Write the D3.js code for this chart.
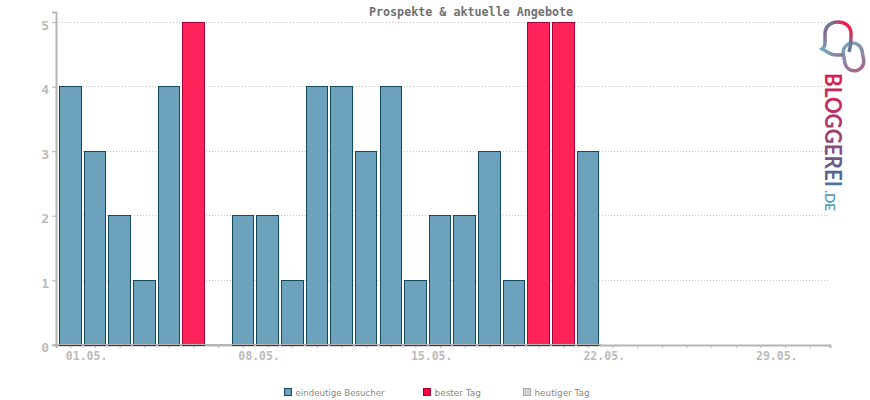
<!DOCTYPE html>
<html>
<head>
<meta charset="utf-8">
<script src="https://d3js.org/d3.v7.min.js"></script>
<style>
  html, body { margin: 0; padding: 0; background: #fff; }
  svg { display: block; }
  .mono { font-family: "DejaVu Sans Mono", monospace; }
</style>
</head>
<body>
<div id="chart"></div>
<script>
// chart data
var days = d3.range(1, 23);
var visitors = [4, 3, 2, 1, 4, 5, 0, 2, 2, 1, 4, 4, 3, 4, 1, 2, 2, 3, 1, 5, 5, 3];
var bestValue = 5;
var allDays = d3.range(1, 32);
var labelledDays = { 1: "01.05.", 8: "08.05.", 15: "15.05.", 22: "22.05.", 29: "29.05." };
var yTicks = [0, 1, 2, 3, 4, 5];
var legendNames = ["eindeutige Besucher", "bester Tag", "heutiger Tag"];
var legendFill = ["#6ca2bb", "#ff0040", "#d3d3d3"];
var legendStroke = ["#134a5c", "#a80030", "#aaaaaa"];
var legendX = [284, 423, 523];
var legendWidth = [89, 46.5, 55];

var svg = d3.select("#chart").append("svg").attr("width", 870).attr("height", 400);

var x = d3.scaleLinear().domain([0.42, 31.82]).range([56, 830]);
var y = d3.scaleLinear().domain([0, 5.16]).range([344.7, 11.9]);

// title
svg.append("text")
  .attr("class", "mono")
  .attr("x", 471).attr("y", 16)
  .attr("text-anchor", "middle")
  .attr("font-size", 11.7).attr("font-weight", "bold")
  .attr("fill", "#707070")
  .text("Prospekte & aktuelle Angebote");

// grid
svg.append("g").selectAll("line").data(yTicks.slice(1)).join("line")
  .attr("x1", 56).attr("x2", 830)
  .attr("y1", d => Math.floor(y(d)) + 0.5).attr("y2", d => Math.floor(y(d)) + 0.5)
  .attr("stroke", "#c8c8c8").attr("stroke-dasharray", "1,2");

// x axis
var xAxis = svg.append("g")
  .attr("transform", "translate(0,345)")
  .call(d3.axisBottom(x).tickValues(allDays).tickSize(3).tickPadding(5)
    .tickFormat(d => labelledDays[d] || ""));
xAxis.select(".domain").attr("stroke", "#b5b5b5").attr("stroke-width", 2);
xAxis.selectAll(".tick line").attr("stroke", "#b5b5b5");
xAxis.selectAll("text")
  .attr("class", "mono")
  .attr("text-anchor", "start").attr("dx", -5).attr("dy", 12)
  .attr("y", 3)
  .attr("font-size", 11.5).attr("font-weight", "bold")
  .attr("fill", "#bbb");

// y axis
var yAxis = svg.append("g")
  .attr("transform", "translate(56,0)")
  .call(d3.axisLeft(y).tickValues(yTicks).tickSize(4).tickPadding(3).tickFormat(d3.format("d")));
yAxis.select(".domain").attr("stroke", "#b5b5b5").attr("stroke-width", 2);
yAxis.selectAll(".tick line").attr("stroke", "#b5b5b5");
yAxis.selectAll("text")
  .attr("class", "mono")
  .attr("dy", "0.55em")
  .attr("font-size", 13).attr("font-weight", "bold")
  .attr("fill", "#bbb");

// bars
svg.append("g").selectAll("rect").data(days.filter((d, i) => visitors[i] > 0)).join("rect")
  .attr("x", d => Math.round(x(d) - 11.2) + 0.5)
  .attr("width", d => Math.round(x(d) + 10.4) - Math.round(x(d) - 11.2))
  .attr("y", d => Math.floor(y(visitors[d - 1])) + 0.5)
  .attr("height", d => 345 - Math.floor(y(visitors[d - 1])))
  .attr("fill", d => visitors[d - 1] == bestValue ? "#ff2359" : "#6ca2bb")
  .attr("stroke", d => visitors[d - 1] == bestValue ? "#a80038" : "#134a5c")
  .attr("stroke-width", 1);

// axis shows through the foot of the bars
svg.append("line")
  .attr("x1", 56).attr("x2", 601).attr("y1", 344.5).attr("y2", 344.5)
  .attr("stroke", "#b5b5b5");

// legend
var legend = svg.append("g").selectAll("g").data(legendNames).join("g")
  .attr("transform", (d, i) => "translate(" + legendX[i] + ",388)");
legend.append("rect")
  .attr("x", 0.5).attr("y", 0.5).attr("width", 7).attr("height", 7)
  .attr("fill", (d, i) => legendFill[i])
  .attr("stroke", (d, i) => legendStroke[i]);
legend.append("text")
  .attr("x", 11.5).attr("y", 8)
  .attr("font-family", "DejaVu Sans, sans-serif")
  .attr("font-size", 9)
  .attr("textLength", (d, i) => legendWidth[i]).attr("lengthAdjust", "spacingAndGlyphs")
  .attr("fill", "#888")
  .text(d => d);

// logo
var defs = svg.append("defs");
var grad1 = defs.append("linearGradient").attr("id", "logoLoop")
  .attr("gradientUnits", "userSpaceOnUse")
  .attr("x1", 851).attr("y1", 30).attr("x2", 824).attr("y2", 54);
grad1.append("stop").attr("offset", 0).attr("stop-color", "#f0204f");
grad1.append("stop").attr("offset", 0.3).attr("stop-color", "#5c7d9c");
grad1.append("stop").attr("offset", 0.6).attr("stop-color", "#8a6a8e");
grad1.append("stop").attr("offset", 1).attr("stop-color", "#74b0c6");
var grad2 = defs.append("linearGradient").attr("id", "logoLoop2")
  .attr("gradientUnits", "userSpaceOnUse")
  .attr("x1", 850).attr("y1", 42).attr("x2", 858).attr("y2", 72);
grad2.append("stop").attr("offset", 0).attr("stop-color", "#74a8bf");
grad2.append("stop").attr("offset", 1).attr("stop-color", "#a8648a");
var grad3 = defs.append("linearGradient").attr("id", "logoText")
  .attr("gradientUnits", "userSpaceOnUse")
  .attr("x1", 0).attr("y1", 0).attr("x2", 139).attr("y2", 0);
grad3.append("stop").attr("offset", 0).attr("stop-color", "#e01e50");
grad3.append("stop").attr("offset", 0.4).attr("stop-color", "#a83a70");
grad3.append("stop").attr("offset", 0.75).attr("stop-color", "#4f6a95");
grad3.append("stop").attr("offset", 1).attr("stop-color", "#62a8c6");

svg.append("rect")
  .attr("x", 844).attr("y", 43).attr("width", 19).attr("height", 28).attr("rx", 9.5)
  .attr("transform", "rotate(-10 853 57)")
  .attr("fill", "none").attr("stroke", "url(#logoLoop2)").attr("stroke-width", 3.5);
svg.append("path")
  .attr("d", "M849,52 C851,46 851,40 851,34 C851,26 845,22 838,22 C830,22 825,27 825,34 L825,43 Q825,47 822,49 L829,53 Q832,55 836,55 L843,55")
  .attr("fill", "none").attr("stroke", "url(#logoLoop)").attr("stroke-width", 3.5);

svg.append("text")
  .attr("transform", "translate(825,73) rotate(90)")
  .attr("font-family", "Lato, sans-serif")
  .attr("font-size", 22).attr("font-weight", "bold")
  .attr("textLength", 114).attr("lengthAdjust", "spacingAndGlyphs")
  .style("fill", "url(#logoText)")
  .text("BLOGGEREI");
svg.append("text")
  .attr("transform", "translate(825,190) rotate(90)")
  .attr("font-family", "Lato, sans-serif")
  .attr("font-size", 12.5).attr("font-weight", "bold")
  .attr("textLength", 21).attr("lengthAdjust", "spacingAndGlyphs")
  .attr("fill", "#5a9dbd")
  .text(".DE");
</script>
</body>
</html>
